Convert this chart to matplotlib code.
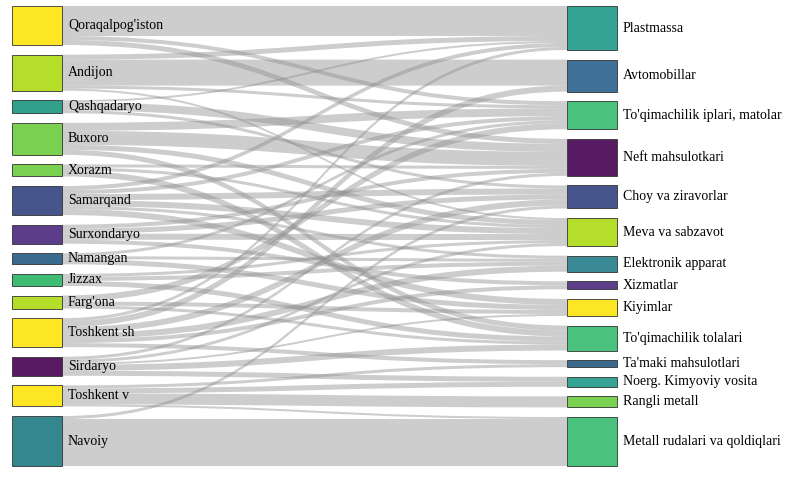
import matplotlib.pyplot as plt
from matplotlib.path import Path
from matplotlib.patches import PathPatch, Rectangle

sources = ["Qoraqalpog'iston", "Andijon", "Qashqadaryo", "Buxoro", "Xorazm", "Samarqand",
           "Surxondaryo", "Namangan", "Jizzax", "Farg'ona", "Toshkent sh", "Sirdaryo",
           "Toshkent v", "Navoiy"]
source_colors = ["#fde725", "#b5de2b", "#31a08a", "#7ad151", "#7ad151", "#46558c",
                 "#5c3d8a", "#3b6a8f", "#3fbc73", "#b5de2b", "#fde725", "#581a63",
                 "#fde725", "#34878d"]
targets = ["Plastmassa", "Avtomobillar", "To'qimachilik iplari, matolar", "Neft mahsulotkari",
           "Choy va ziravorlar", "Meva va sabzavot", "Elektronik apparat", "Xizmatlar",
           "Kiyimlar", "To'qimachilik tolalari", "Ta'maki mahsulotlari",
           "Noerg. Kimyoviy vosita", "Rangli metall", "Metall rudalari va qoldiqlari"]
target_colors = ["#35a394", "#3f7198", "#4ac27d", "#581a63", "#46558c", "#b5de2b",
                 "#3a8a96", "#5c3d8a", "#fde725", "#4ac27d", "#3b6a8f", "#35a394",
                 "#7ad151", "#4ac27d"]

# (source, target, value)
flows = [
    (0, 0, 30), (0, 3, 5), (0, 2, 4),
    (1, 1, 26), (1, 0, 5), (1, 2, 3), (1, 5, 2),
    (2, 3, 8), (2, 0, 2), (2, 4, 3),
    (3, 3, 14), (3, 2, 8), (3, 5, 5), (3, 9, 5),
    (4, 9, 6), (4, 3, 3), (4, 5, 3),
    (5, 5, 6), (5, 4, 6), (5, 0, 4), (5, 8, 6), (5, 2, 4), (5, 6, 3),
    (6, 5, 6), (6, 4, 5), (6, 3, 4), (6, 7, 4),
    (7, 8, 5), (7, 2, 3), (7, 6, 3),
    (8, 6, 4), (8, 5, 3), (8, 9, 5),
    (9, 2, 6), (9, 8, 4), (9, 9, 3),
    (10, 6, 6), (10, 1, 6), (10, 4, 6), (10, 0, 3), (10, 7, 4), (10, 10, 4),
    (11, 9, 6), (11, 11, 5), (11, 3, 3), (11, 5, 3), (11, 8, 2),
    (12, 12, 11), (12, 11, 5), (12, 10, 3), (12, 13, 2),
    (13, 13, 47), (13, 4, 3),
]

top, bottom = 6, 466
xl0, xl1 = 12, 62
xr0, xr1 = 567, 617


def layout(n, idx):
    sums = [sum(f[2] for f in flows if f[idx] == i) for i in range(n)]
    gap = (bottom - top - sum(sums)) / (n - 1)
    ys, y = [], top
    for s in sums:
        ys.append(y)
        y += s + gap
    return sums, ys


s_sum, s_y = layout(len(sources), 0)
t_sum, t_y = layout(len(targets), 1)

fig = plt.figure(figsize=(8.11, 4.79), dpi=100)
ax = fig.add_axes([0, 0, 1, 1])
ax.set_xlim(0, 811)
ax.set_ylim(479, 0)
ax.axis("off")

s_off = list(s_y)
t_off = list(t_y)
s_pos = {}
for k in sorted(range(len(flows)), key=lambda k: (flows[k][0], flows[k][1])):
    s, t, v = flows[k]
    s_pos[k] = s_off[s]
    s_off[s] += v
t_pos = {}
for k in sorted(range(len(flows)), key=lambda k: (flows[k][1], flows[k][0])):
    s, t, v = flows[k]
    t_pos[k] = t_off[t]
    t_off[t] += v

xm = (xl1 + xr0) / 2
for k, (s, t, v) in enumerate(flows):
    y0, y1 = s_pos[k], t_pos[k]
    verts = [(xl1, y0), (xm, y0), (xm, y1), (xr0, y1),
             (xr0, y1 + v),
             (xm, y1 + v), (xm, y0 + v), (xl1, y0 + v),
             (xl1, y0)]
    codes = [Path.MOVETO, Path.CURVE4, Path.CURVE4, Path.CURVE4,
             Path.LINETO, Path.CURVE4, Path.CURVE4, Path.CURVE4, Path.CLOSEPOLY]
    ax.add_patch(PathPatch(Path(verts, codes), facecolor="#909090", alpha=0.45, lw=0))

font = dict(family="Liberation Serif", fontsize=10, va="center", color="black")
for i, name in enumerate(sources):
    ax.add_patch(Rectangle((xl0, s_y[i]), xl1 - xl0, s_sum[i], facecolor=source_colors[i],
                           edgecolor="#333333", lw=0.6))
    ax.text(xl1 + 6, s_y[i] + s_sum[i] / 2, name, **font)
for i, name in enumerate(targets):
    ax.add_patch(Rectangle((xr0, t_y[i]), xr1 - xr0, t_sum[i], facecolor=target_colors[i],
                           edgecolor="#333333", lw=0.6))
    ax.text(xr1 + 6, t_y[i] + t_sum[i] / 2, name, **font)

fig.savefig("out.png", dpi=100)
